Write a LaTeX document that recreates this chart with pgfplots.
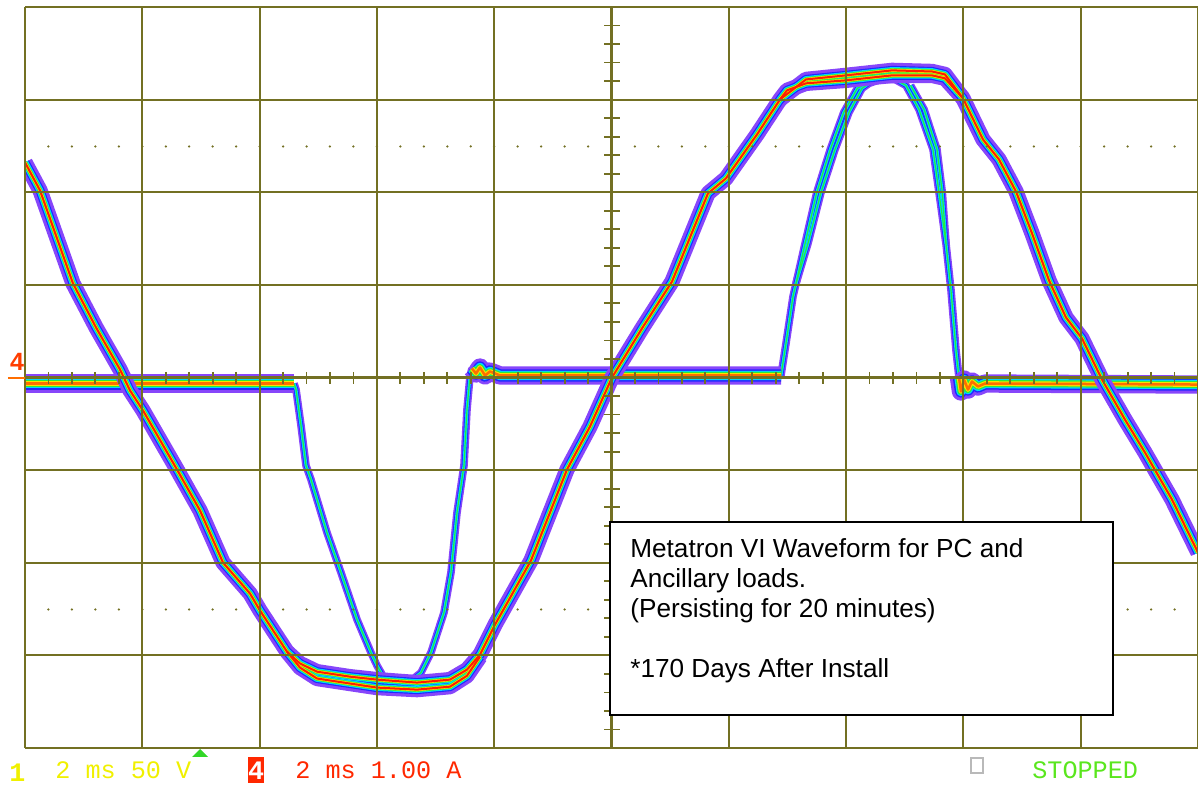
\documentclass[border=0pt]{standalone}
\usepackage{pgfplots}
\pgfplotsset{compat=1.18}
\usepackage{pgfplotstable}
\usepackage{fontspec}
\setmainfont{Liberation Sans}
\setmonofont{Liberation Mono}

\definecolor{grat}{RGB}{115,112,35}
\definecolor{tvio}{RGB}{135,70,250}
\definecolor{tblue}{RGB}{30,40,255}
\definecolor{tcyan}{RGB}{0,215,255}
\definecolor{tgreen}{RGB}{40,235,60}
\definecolor{tyellow}{RGB}{250,225,0}
\definecolor{tred}{RGB}{255,30,0}
\definecolor{torange}{RGB}{255,110,0}
\definecolor{scyellow}{RGB}{240,240,0}
\definecolor{scred}{RGB}{255,40,0}
\definecolor{scgreen}{RGB}{90,230,30}
\definecolor{trig}{RGB}{50,215,40}

% time in ms, voltage in V (50 V/div)
\pgfplotstableread{
t v
0 116.1
0.256 101.0
0.818 50.8
1.211 27.0
1.620 4.3
1.790 -7.0
2.012 -17.8
2.592 -49.7
2.984 -71.8
3.376 -99.9
3.836 -116.6
4.007 -125.8
4.467 -148.0
4.689 -154.4
4.979 -158.8
5.541 -161.5
6.002 -163.1
6.684 -164.7
7.246 -163.1
7.536 -157.7
7.758 -149.6
8.014 -133.4
8.627 -98.8
9.241 -49.7
9.633 -26.5
10.009 0.0
10.520 26.5
11.032 51.8
11.645 99.4
11.952 107.5
12.481 131.2
12.873 150.1
12.992 155.0
13.316 158.8
13.998 160.4
14.783 163.1
15.465 163.1
15.686 161.5
15.993 150.7
16.334 128.5
16.607 117.7
16.897 100.4
17.170 77.8
17.460 52.4
17.749 32.4
18.022 21.1
18.363 -1.1
18.755 -22.7
19.096 -40.5
19.557 -65.9
20.000 -94.5
}\volt
\pgfplotstableread{
t v
4.467 -148.0
4.689 -156.6
4.979 -162.5
5.541 -165.2
6.002 -167.4
6.684 -168.5
7.246 -166.9
7.536 -161.0
7.758 -150.7
}\voltB
\pgfplotstableread{
t v
12.873 150.1
13.316 160.9
13.998 163.1
14.783 165.8
15.465 165.2
15.686 163.6
15.993 150.7
}\voltT

% current in A (1 A/div)
\pgfplotstableread{
t I
0 -0.065
4.587 -0.065
}\flatA
\pgfplotstableread{
t I
7.621 0.097
7.690 0.043
7.758 0.108
7.843 0.022
7.928 0.065
8.099 0.022
12.890 0.022
}\flatB
\pgfplotstableread{
t I
15.925 0.0
15.959 -0.151
16.010 -0.022
16.078 -0.130
16.146 -0.043
16.249 -0.097
16.368 -0.065
20 -0.076
}\flatC
\pgfplotstableread{
t I
4.587 -0.065
4.621 -0.130
4.706 -0.518
4.791 -0.950
4.876 -1.101
5.149 -1.674
5.388 -2.106
5.661 -2.613
5.899 -2.970
6.002 -3.110
6.138 -3.261
6.309 -3.294
6.564 -3.283
6.752 -3.186
6.922 -2.970
7.144 -2.538
7.263 -2.106
7.366 -1.458
7.485 -0.950
7.536 -0.346
7.587 0.011
7.621 0.097
}\pulseA
\pgfplotstableread{
t I
12.890 0.022
12.975 0.367
13.095 0.875
13.146 1.015
13.350 1.447
13.572 1.998
13.811 2.462
14.049 2.862
14.271 3.121
14.390 3.175
14.578 3.218
14.834 3.218
15.021 3.153
15.243 2.894
15.482 2.462
15.584 1.998
15.703 1.447
15.789 0.940
15.874 0.292
15.925 0.0
}\pulseB
\pgfplotstableread{
t I
13.146 1.015
13.300 1.447
13.500 1.998
13.730 2.462
13.960 2.862
14.190 3.121
14.340 3.175
}\pulseCa
\pgfplotstableread{
t I
15.100 3.153
15.330 2.894
15.550 2.462
15.640 1.998
15.703 1.447
}\pulseCb

\newcommand{\flatlayer}[2]{%
  \addplot[#1, line width=#2] table[x=t,y=I]{\flatA};
  \addplot[#1, line width=#2] table[x=t,y=I]{\flatB};
  \addplot[#1, line width=#2] table[x=t,y=I]{\flatC};
}
\newcommand{\pulselayer}[2]{%
  \addplot[#1, line width=#2] table[x=t,y=I]{\pulseA};
  \addplot[#1, line width=#2] table[x=t,y=I]{\pulseB};
  \addplot[#1, line width=#2] table[x=t,y=I]{\pulseCa};
  \addplot[#1, line width=#2] table[x=t,y=I]{\pulseCb};
}
\newcommand{\voltlayer}[2]{%
  \addplot[#1, line width=#2] table[x=t,y expr=\thisrow{v}/50]{\volt};
  \addplot[#1, line width=#2] table[x=t,y expr=\thisrow{v}/50]{\voltB};
  \addplot[#1, line width=#2] table[x=t,y expr=\thisrow{v}/50]{\voltT};
}

\begin{document}
\begin{tikzpicture}
\begin{axis}[at={(0,0)}, anchor=south west, scale only axis,
  width=703.8pt, height=444.6pt,
  xmin=0, xmax=20, ymin=-4, ymax=4, hide axis, clip=true,
  every axis plot/.append style={no markers, line join=round}]
% current: pulses (thin)
\pulselayer{tvio}{4.6pt}
\pulselayer{tblue}{2.8pt}
\pulselayer{tcyan}{1.8pt}
\pulselayer{tgreen}{0.7pt}
% current: flat parts (wide)
\flatlayer{tvio}{11pt}
\flatlayer{tblue}{7.4pt}
\flatlayer{tcyan}{5.6pt}
\flatlayer{tgreen}{4.2pt}
\flatlayer{tyellow}{2.8pt}
\flatlayer{torange}{1.5pt}
% voltage
\voltlayer{tvio}{9.2pt}
\voltlayer{tblue}{5.4pt}
\voltlayer{tcyan}{4.0pt}
\voltlayer{tgreen}{2.8pt}
\voltlayer{tyellow}{2.0pt}
\voltlayer{tred}{1.2pt}
\end{axis}

\begin{scope}[x=0.6pt, y=-0.6pt, shift={(-15pt,448.8pt)}]
% graticule
\foreach \i in {0,...,10} \draw[grat, line width=1.3pt] ({25+117.3*\i},7) -- ({25+117.3*\i},748);
\foreach \j in {0,...,8} \draw[grat, line width=1.3pt] (25,{7+92.625*\j}) -- (1198,{7+92.625*\j});
\foreach \k in {0,...,50} \draw[grat, line width=1.1pt] ({25+23.46*\k},372) -- ({25+23.46*\k},384);
\foreach \k in {0,...,40} \draw[grat, line width=1.1pt] (604,{7+18.525*\k}) -- (620,{7+18.525*\k});
\foreach \k in {1,...,49} {
  \fill[grat] ({25+23.46*\k},146.5) circle (0.75pt);
  \fill[grat] ({25+23.46*\k},609.5) circle (0.75pt);
}
% channel 4 marker
\draw[torange, line width=1.5pt] (8,378) -- (25,378);
\node[anchor=base, inner sep=0, text=scred!70!torange, font=\bfseries\fontsize{15pt}{15pt}\selectfont] at (17,371) {4};
% annotation box
\draw[black, line width=0.9pt, fill=white] (610,522) rectangle (1113,715);
\begin{scope}[every node/.style={anchor=base west, inner sep=0, font=\fontsize{15.7pt}{18pt}\selectfont}]
\node at (630,558) {Metatron VI Waveform for PC and};
\node at (630,588) {Ancillary loads.};
\node at (630,617.5) {(Persisting for 20 minutes)};
\node at (630,677.5) {*170 Days After Install};
\end{scope}
% status line
\node[anchor=base west, inner sep=0, text=scyellow, font=\ttfamily\bfseries\fontsize{16pt}{16pt}\selectfont] at (9,781) {1};
\node[anchor=base west, inner sep=0, text=scyellow, font=\ttfamily\fontsize{15.1pt}{15pt}\selectfont] at (55,779) {2 ms 50 V};
\fill[trig] (192,757) -- (208,757) -- (200,749) -- cycle;
\fill[scred] (248,757) rectangle (264,783);
\node[anchor=base, inner sep=0, text=white, font=\ttfamily\bfseries\fontsize{16pt}{16pt}\selectfont] at (256,780) {4};
\node[anchor=base west, inner sep=0, text=scred, font=\ttfamily\fontsize{15.1pt}{15pt}\selectfont] at (295,779) {2 ms 1.00 A};
\draw[gray!55, line width=1.3pt] (971,758) rectangle (983,773);
\node[anchor=base west, inner sep=0, text=scgreen, font=\ttfamily\fontsize{15.1pt}{15pt}\selectfont] at (1032,779) {STOPPED};
\pgfresetboundingbox
\path[use as bounding box] (0,0) rectangle (1198,787);
\end{scope}
\end{tikzpicture}
\end{document}
